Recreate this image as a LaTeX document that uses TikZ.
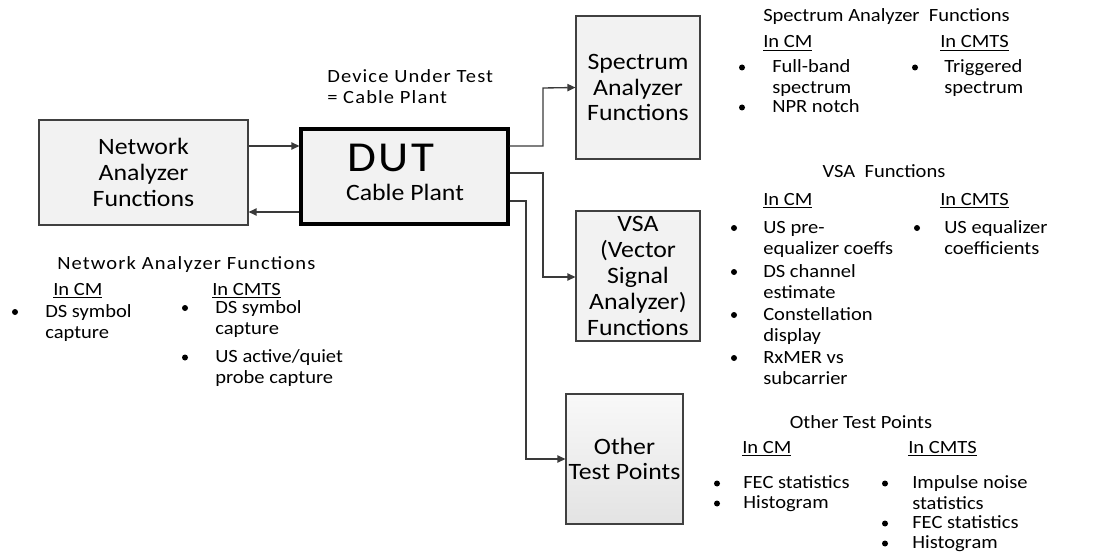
\documentclass[tikz,border=0pt]{standalone}
\usepackage{fontspec}
\setmainfont{Carlito}[FakeStretch=1.1]
\usetikzlibrary{arrows.meta}
\definecolor{boxfill}{HTML}{F2F2F2}
\definecolor{edgegray}{HTML}{404040}
\definecolor{wire}{HTML}{3A3A3A}
\newcommand\listfont{\fontsize{14}{15.75}\selectfont}
\newcommand\wideface{\addfontfeature{LetterSpace=6}}
\newcommand\boxfont{\fontsize{17.6}{19.4}\selectfont}
\newcommand\dutfont{\addfontfeature{LetterSpace=6}\fontsize{32}{34}\selectfont}
\begin{document}
\begin{tikzpicture}[x=0.75pt,y=-0.75pt,
  box/.style={draw=edgegray, line width=0.9pt, fill=boxfill, align=center,
              font=\boxfont, inner sep=0pt},
  txt/.style={inner sep=0pt, anchor=base west, align=left, font=\listfont},
  ctr/.style={inner sep=0pt, anchor=base, align=center, font=\listfont},
  arr/.style={draw=wire, line width=1pt, -{Triangle[length=6pt,width=5.5pt]}}]
\useasboundingbox (0,0) rectangle (1119,552);

% main blocks
\node[box, minimum width=156.75pt, minimum height=78.75pt] (NA) at (143.5,172.5)
  {Network\\Analyzer\\Functions};
\node[box, draw=black, line width=2.4pt, minimum width=155.25pt, minimum height=71.25pt]
  (DUT) at (404.5,176.5) {};
\node[inner sep=0pt, anchor=base, font=\dutfont] (dutT) at (391,172) {DUT};
\node[inner sep=0pt, anchor=base, font=\boxfont] (dutS) at (405,200) {Cable Plant};
\node[box, minimum width=93pt, minimum height=107.25pt] (SA) at (638,87.5)
  {Spectrum\\Analyzer\\Functions};
\node[box, minimum width=93pt, minimum height=97.5pt] (VSA) at (638,276)
  {VSA\\(Vector\\Signal\\Analyzer)\\Functions};
\node[box, top color=gray!5, bottom color=gray!22, minimum width=87.75pt,
  minimum height=97.5pt] (OT) at (624.5,459) {Other\\Test Points};

% multi-line labels are placed by the baseline of their last line
\node[txt, font=\listfont\wideface] (dutLbl) at (327,104) {Device Under Test\\= Cable Plant};

% connectors
\draw[arr] (NA.east |- 0,146) -- (DUT.west |- 0,146);
\draw[arr] (DUT.west |- 0,212) -- (NA.east |- 0,212);
\draw[arr] (DUT.east |- 0,146) -| (543,88) -- (SA.west);
\draw[arr] (DUT.east |- 0,173) -| (543,277) -- (VSA.west |- 0,277);
\draw[arr] (DUT.east |- 0,201) -| (526,459) -- (OT.west);

% spectrum analyzer functions
\node[txt] (saT) at (763,22) {Spectrum Analyzer~ Functions};
\node[txt] (saCM) at (763,48) {\underline{In CM}};
\node[txt] (saCMTS) at (940,48) {\underline{In CMTS}};
\node[txt] (sa1) at (772,94) {Full-band\\spectrum};
\node[txt] (sa2) at (772,113) {NPR notch};
\node[txt] (sa3) at (944,94) {Triggered\\spectrum};
\fill (742,67.5) circle (3);
\fill (742,107.5) circle (3);
\fill (915,67.5) circle (3);

% VSA functions
\node[ctr] (vsT) at (884,178) {VSA~ Functions};
\node[txt] (vsCM) at (763,205) {\underline{In CM}};
\node[txt] (vsCMTS) at (940,205) {\underline{In CMTS}};
\node[txt] (vs1) at (763,254) {US pre-\\equalizer coeffs};
\node[txt] (vs2) at (763,298) {DS channel\\estimate};
\node[txt] (vs3) at (763,341) {Constellation\\display};
\node[txt] (vs4) at (763,384) {RxMER vs\\subcarrier};
\node[txt] (vs5) at (944,254) {US equalizer\\coefficients};
\fill (734,228) circle (3);
\fill (734,272) circle (3);
\fill (734,315) circle (3);
\fill (734,358) circle (3);
\fill (917,228) circle (3);

% network analyzer functions
\node[txt, font=\listfont\wideface] (naT) at (57,269) {Network Analyzer Functions};
\node[txt] (naCM) at (53,295) {\underline{In CM}};
\node[txt] (naCMTS) at (212,295) {\underline{In CMTS}};
\node[txt] (na1) at (45,338) {DS symbol\\capture};
\node[txt] (na2) at (215,334) {DS symbol\\capture};
\node[txt] (na3) at (215,383) {US active/quiet\\probe capture};
\fill (15,312) circle (3);
\fill (185,308) circle (3);
\fill (185,357.5) circle (3);

% other test points
\node[ctr] (otT) at (861,428) {Other Test Points};
\node[txt] (otCM) at (742,453) {\underline{In CM}};
\node[txt] (otCMTS) at (908,453) {\underline{In CMTS}};
\node[txt] (ot1) at (743,488) {FEC statistics};
\node[txt] (ot2) at (743,508) {Histogram};
\node[txt] (ot3) at (912,509) {Impulse noise\\statistics};
\node[txt] (ot4) at (912,528) {FEC statistics};
\node[txt] (ot5) at (912,548) {Histogram};
\fill (717,483.5) circle (3);
\fill (717,503.5) circle (3);
\fill (885,483.5) circle (3);
\fill (885,523.5) circle (3);
\fill (885,543.5) circle (3);
\end{tikzpicture}
\end{document}
